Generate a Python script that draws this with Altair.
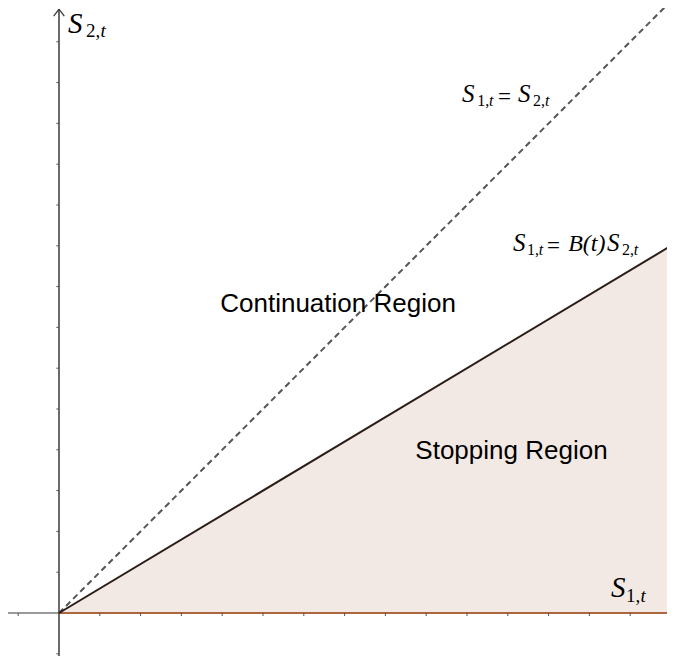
import altair as alt
import pandas as pd

# ---- data (in axis units; one tick = 1 unit) ----
diag_x = [0, 15.1]
diag_y = [0, 15.1]          # S1 = S2 (dashed)
bound_x = [0, 15.1]
bound_y = [0, 9.06]         # S1 = B(t) S2 (solid), stopping region below
xticks = [-1, 1, 2, 3, 4, 5, 6, 7, 8, 9, 10, 11, 12, 13, 14, 15]
yticks = [-1, 1, 2, 3, 4, 5, 6, 7, 8, 9, 10, 11, 12, 13, 14]

XMIN, XMAX = -1.25, 14.902
YMIN, YMAX = -1.054, 14.828
W, H = 659, 648

xs = alt.Scale(domain=[XMIN, XMAX], nice=False, zero=False)
ys = alt.Scale(domain=[YMIN, YMAX], nice=False, zero=False)
X = lambda f="x": alt.X(f"{f}:Q", scale=xs, axis=None)
Y = lambda f="y": alt.Y(f"{f}:Q", scale=ys, axis=None)

bound = pd.DataFrame({"x": bound_x, "y": bound_y, "y0": [0, 0]})
diag = pd.DataFrame({"x": diag_x, "y": diag_y})

area = alt.Chart(bound).mark_area(color="#f3e9e4", opacity=1, clip=True).encode(
    x=X(), y=Y(), y2=alt.Y2("y0:Q"))

# x axis (grey), brown edge of region along it
xaxis = alt.Chart(pd.DataFrame({"x": [XMIN], "x2": [XMAX], "y": [0]})).mark_rule(
    color="#9a9a9a", strokeWidth=2).encode(x=X(), x2="x2:Q", y=Y())
brown = alt.Chart(pd.DataFrame({"x": [0], "x2": [XMAX], "y": [0]})).mark_rule(
    color="#b5541f", strokeWidth=1.6).encode(x=X(), x2="x2:Q", y=Y())

# y axis
yaxis = alt.Chart(pd.DataFrame({"x": [0], "y": [YMIN], "y2": [14.8]})).mark_rule(
    color="#3a3a3a", strokeWidth=1.5).encode(x=X(), y=Y(), y2="y2:Q")
arrow = alt.Chart(pd.DataFrame({"x": [0, 0], "x2": [-0.13, 0.13],
                                "y": [14.8, 14.8], "y2": [14.63, 14.63]})).mark_rule(
    color="#3a3a3a", strokeWidth=1.3).encode(x=X(), x2="x2:Q", y=Y(), y2="y2:Q")

# ticks
xt = pd.DataFrame({"x": xticks})
xt["y"] = 0
xt["y2"] = -0.075
xtick = alt.Chart(xt).mark_rule(color="#555555", strokeWidth=1, clip=True).encode(
    x=X(), y=Y(), y2="y2:Q")
yt = pd.DataFrame({"y": yticks})
yt["x"] = -0.065
yt["x2"] = 0
ytick = alt.Chart(yt).mark_rule(color="#555555", strokeWidth=1).encode(
    x=X(), x2="x2:Q", y=Y())

dashed = alt.Chart(diag).mark_line(color="#555555", strokeWidth=2,
                                   strokeDash=[6, 4], clip=True).encode(x=X(), y=Y())
solid = alt.Chart(bound).mark_line(color="#2b1c18", strokeWidth=2, clip=True).encode(
    x=X(), y=Y())

# region labels
regions = pd.DataFrame({"t": ["Continuation Region", "Stopping Region"],
                        "x": [6.84, 11.09], "y": [7.38, 3.77]})
reg = alt.Chart(regions).mark_text(font="Liberation Sans", fontSize=26, align="center",
                                   baseline="alphabetic", color="#000000").encode(
    x=X(), y=Y(), text="t:N")

# math labels: pieces (text, x, y, size)
ital = pd.DataFrame({
    "t": ["S", "t", "S", "t",
          "S", "t", "S", "t",
          "S", "t", "B(t)", "S", "t"],
    "x": [0.22, 1.02, 13.53, 14.25,
          9.88, 10.54, 11.25, 11.91,
          11.13, 11.76, 12.48, 13.43, 14.09],
    "y": [14.21, 14.11, 0.39, 0.27,
          12.52, 12.43, 12.52, 12.43,
          8.87, 8.77, 8.87, 8.87, 8.77],
    "s": [29, 19, 29, 19,
          25, 16, 25, 16,
          25, 16, 24, 25, 16]})
upr = pd.DataFrame({
    "t": ["2,", "1,", "1,", "=", "2,", "1,", "=", "2,"],
    "x": [0.66, 13.90, 10.25, 10.76, 11.62, 11.47, 11.96, 13.80],
    "y": [14.11, 0.27, 12.43, 12.48, 12.43, 8.77, 8.83, 8.77],
    "s": [19, 19, 16, 23, 16, 16, 23, 16]})
mi = alt.Chart(ital).mark_text(font="Liberation Serif", fontStyle="italic", align="left",
                               baseline="alphabetic", color="#000000").encode(
    x=X(), y=Y(), text="t:N", size=alt.Size("s:Q", scale=None, legend=None))
mu = alt.Chart(upr).mark_text(font="Liberation Serif", align="left",
                              baseline="alphabetic", color="#000000").encode(
    x=X(), y=Y(), text="t:N", size=alt.Size("s:Q", scale=None, legend=None))

chart = alt.layer(area, xaxis, brown, xtick, yaxis, ytick, arrow, dashed, solid,
                  reg, mi, mu).properties(
    width=W, height=H, padding=0, autosize=alt.AutoSizeParams(type="none"),
    background="white").configure_view(stroke=None)

chart.save("out.html", embed_options={"renderer": "svg", "actions": False})
